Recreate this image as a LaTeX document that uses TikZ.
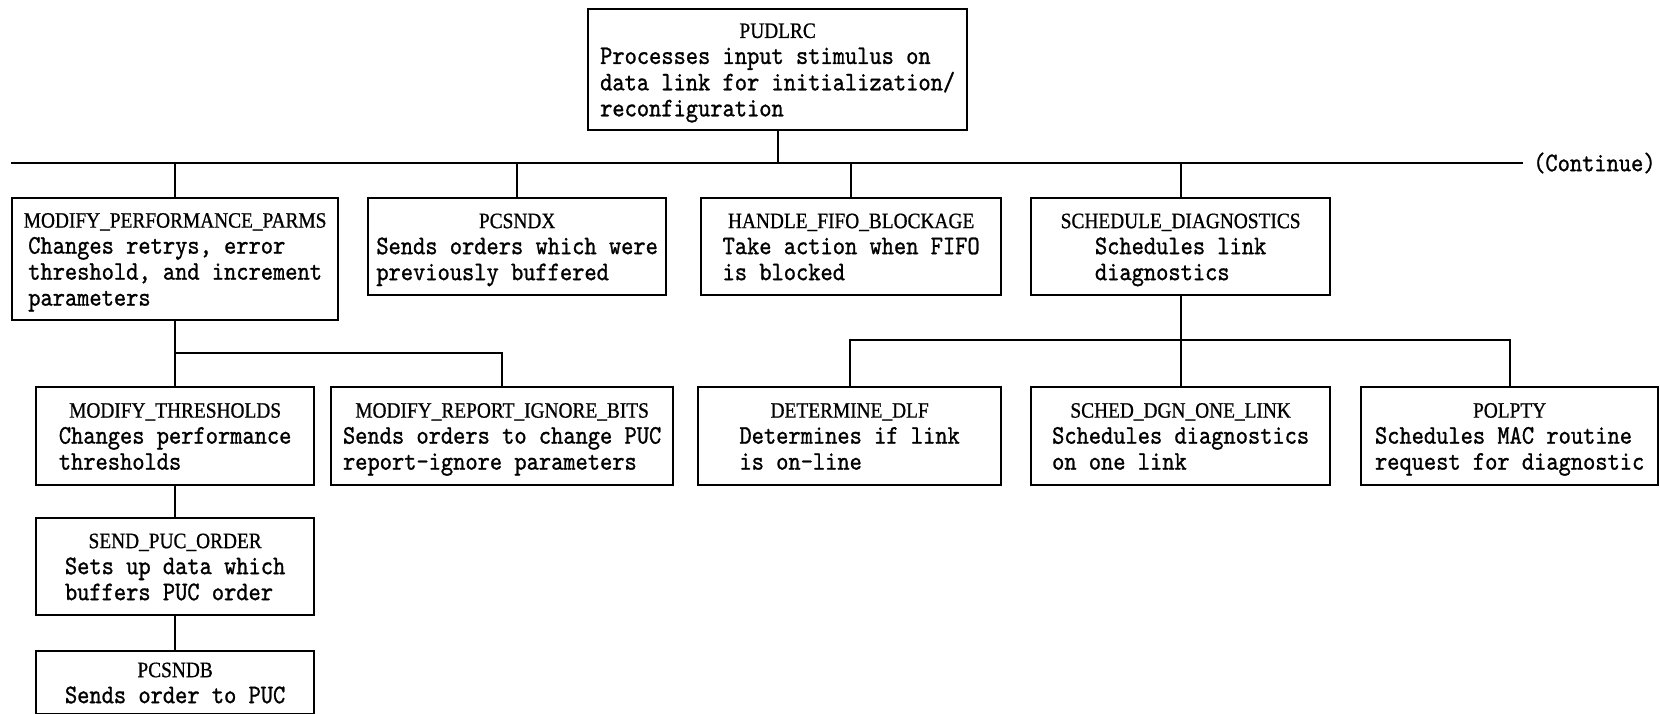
\documentclass[tikz,border=0pt]{standalone}
\usepackage{fontspec}
\setmainfont{Liberation Serif}
% typewriter body text and condensed serif headings
\newfontfamily\bodyfont{lmmono10-regular.otf}[FakeStretch=0.87,FakeBold=1]
\newfontfamily\headfont{Liberation Serif}[FakeStretch=0.88,FakeBold=0.8]
% routine box: centred heading over a left-aligned, centred description block
\newcommand{\boxtext}[2]{%
  \begin{tabular}{@{}c@{}}%
    \rule{0pt}{22.8pt}{\headfont\fontsize{22}{26}\selectfont #1}\\
    \begin{tabular}[t]{@{}l@{}}#2\end{tabular}%
  \end{tabular}}
\tikzset{
  routine/.style={draw, line width=2.3pt, inner sep=0pt, anchor=north west,
    font=\bodyfont\fontsize{26.8}{26}\selectfont},
  wire/.style={line width=2.3pt},
  note/.style={inner sep=0pt, font=\bodyfont\fontsize{26.8}{26}\selectfont}
}
\begin{document}
\begin{tikzpicture}[x=1pt,y=-1pt]
\useasboundingbox (0,0) rectangle (1660,713);

% top routine
\node[routine, minimum width=379pt, minimum height=121pt] (pudlrc) at (587,8)
  {\boxtext{PUDLRC}{Processes input stimulus on\\data link for initialization/\\reconfiguration}};

% first level
\node[routine, minimum width=326pt, minimum height=122pt] (mpp) at (11,197)
  {\boxtext{MODIFY\_PERFORMANCE\_PARMS}{Changes retrys, error\\threshold, and increment\\parameters}};
\node[routine, minimum width=298pt, minimum height=97pt] (pcsndx) at (367,197)
  {\boxtext{PCSNDX}{Sends orders which were\\previously buffered}};
\node[routine, minimum width=300pt, minimum height=97pt] (hfb) at (700,197)
  {\boxtext{HANDLE\_FIFO\_BLOCKAGE}{Take action when FIFO\\is blocked}};
\node[routine, minimum width=299pt, minimum height=97pt] (sdiag) at (1030,197)
  {\boxtext{SCHEDULE\_DIAGNOSTICS}{Schedules link\\diagnostics}};

% second level
\node[routine, minimum width=278pt, minimum height=98pt] (mt) at (35,386)
  {\boxtext{MODIFY\_THRESHOLDS}{Changes performance\\thresholds}};
\node[routine, minimum width=342pt, minimum height=98pt] (mrib) at (330,386)
  {\boxtext{MODIFY\_REPORT\_IGNORE\_BITS}{Sends orders to change PUC\\report-ignore parameters}};
\node[routine, minimum width=303pt, minimum height=98pt] (ddlf) at (697,386)
  {\boxtext{DETERMINE\_DLF}{Determines if link\\is on-line}};
\node[routine, minimum width=299pt, minimum height=98pt] (sdol) at (1030,386)
  {\boxtext{SCHED\_DGN\_ONE\_LINK}{Schedules diagnostics\\on one link}};
\node[routine, minimum width=297pt, minimum height=98pt] (polpty) at (1360,386)
  {\boxtext{POLPTY}{Schedules MAC routine\\request for diagnostic}};

% lower chain
\node[routine, minimum width=278pt, minimum height=97pt] (spo) at (35,517)
  {\boxtext{SEND\_PUC\_ORDER}{Sets up data which\\buffers PUC order}};
\node[routine, minimum width=278pt, minimum height=63pt] (pcsndb) at (35,650)
  {\boxtext{PCSNDB}{Sends order to PUC}};

% main bus with its continuation mark
\coordinate (busL) at (11,163);
\node[note, anchor=west] (cont) at (1533,163) {(Continue)};
\coordinate (busR) at (1523,163);
\draw[wire] (busL) -- (busR);
\draw[wire] (pudlrc.south) -- (pudlrc.south |- busL);
\foreach \n in {mpp,pcsndx,hfb,sdiag}
  \draw[wire] (\n.north) -- (\n.north |- busL);

% branch under MODIFY_PERFORMANCE_PARMS
\coordinate (j1) at (174,353);
\draw[wire] (mpp.south) -- (mt.north);
\draw[wire] (j1) -- (j1 -| mrib.north) -- (mrib.north);

% branch under SCHEDULE_DIAGNOSTICS
\coordinate (j2) at (1180,340);
\draw[wire] (sdiag.south) -- (sdol.north);
\draw[wire] (ddlf.north) -- (ddlf.north |- j2) -- (polpty.north |- j2) -- (polpty.north);

% chain below MODIFY_THRESHOLDS
\draw[wire] (mt.south) -- (spo.north);
\draw[wire] (spo.south) -- (pcsndb.north);
\end{tikzpicture}
\end{document}
